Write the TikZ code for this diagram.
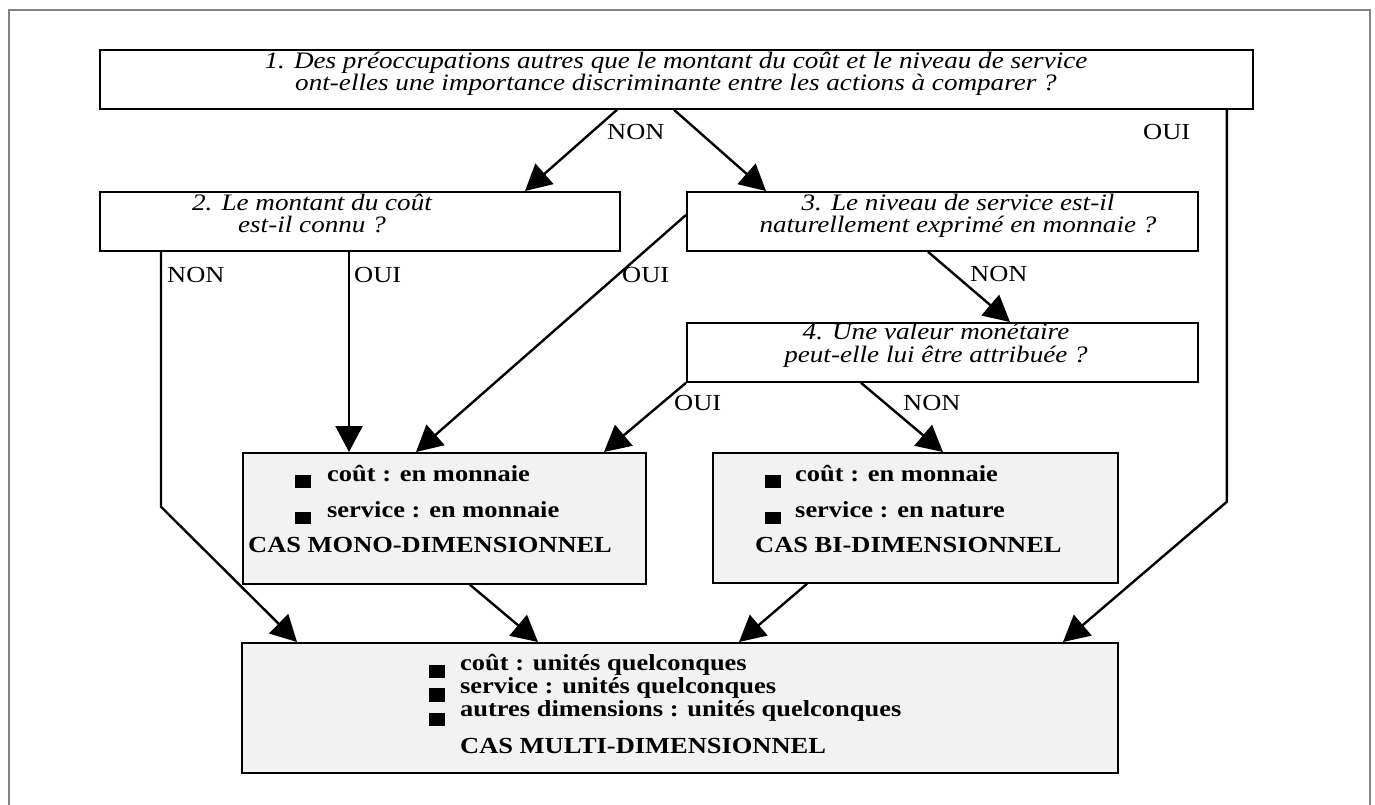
\documentclass[tikz,border=0pt]{standalone}
\usepackage{fontspec}
\setmainfont{Liberation Serif}[FakeStretch=1.15]
\usetikzlibrary{arrows.meta}
\definecolor{boxgray}{RGB}{242,242,242}
\definecolor{framegray}{RGB}{130,130,130}
\begin{document}
\begin{tikzpicture}[x=1pt,y=-1pt,
  qbox/.style={draw=black,line width=1.8pt,fill=white,rectangle,inner sep=0pt,anchor=north west},
  rbox/.style={qbox,fill=boxgray},
  qtext/.style={font=\fontsize{23.6}{22.5}\selectfont\itshape,align=center,inner sep=0pt,anchor=base},
  lbl/.style={font=\fontsize{23}{22.5}\selectfont,inner sep=0pt,anchor=base west},
  btext/.style={font=\fontsize{23}{23}\selectfont\bfseries,inner sep=0pt,anchor=base west},
  conn/.style={line width=2.4pt,line join=miter,-{Triangle[length=26pt,width=27pt]}}]
\useasboundingbox (0,0) rectangle (1375,805);
\draw[framegray,line width=2pt] (9,805) -- (9,10) -- (1370,10) -- (1370,805);

% question boxes
\node[qbox,minimum width=1153pt,minimum height=59pt] (b1) at (99,49) {};
\node[qbox,minimum width=520pt,minimum height=59pt] (b2) at (99,191) {};
\node[qbox,minimum width=511pt,minimum height=59pt] (b3) at (686,191) {};
\node[qbox,minimum width=511pt,minimum height=59pt] (b4) at (686,322) {};
% result boxes
\node[rbox,minimum width=403pt,minimum height=131pt] (mono) at (242,452) {};
\node[rbox,minimum width=405pt,minimum height=130pt] (bi) at (712,452) {};
\node[rbox,minimum width=876pt,minimum height=130pt] (multi) at (241,642) {};

% question texts (base anchor = baseline of the last line)
\node[qtext] (t1) at (676,91) {1. Des préoccupations autres que le montant du coût et le niveau de service\\ont-elles une importance discriminante entre les actions à comparer ?};
\node[qtext] (t2) at (312,233) {2. Le montant du coût\\est-il connu ?};
\node[qtext] (t3) at (958,233) {3. Le niveau de service est-il\\naturellement exprimé en monnaie ?};
\node[qtext] (t4) at (936,362) {4. Une valeur monétaire\\peut-elle lui être attribuée ?};

% connectors
\draw[conn] ([xshift=518pt]b1.south west) -- ([xshift=426pt]b2.north west);
\draw[conn] ([xshift=575pt]b1.south west) -- ([xshift=80pt]b3.north west);
\draw[conn] ([xshift=-27pt]b1.south east) -- ++(0,392) -- ([xshift=822pt]multi.north west);
\draw[conn] ([xshift=62pt]b2.south west) -- ++(0,255) -- ([xshift=56pt]multi.north west);
\draw[conn] ([xshift=250pt]b2.south west) -- ([xshift=107pt]mono.north west);
\draw[conn] ([yshift=-24pt]b3.north west) -- ([xshift=174pt]mono.north west);
\draw[conn] ([xshift=242pt]b3.south west) -- ([xshift=324pt]b4.north west);
\draw[conn] (b4.south west) -- ([xshift=362pt]mono.north west);
\draw[conn] ([xshift=175pt]b4.south west) -- ([xshift=231pt]bi.north west);
\draw[conn] ([xshift=228pt]mono.south west) -- ([xshift=297pt]multi.north west);
\draw[conn] ([xshift=95pt]bi.south west) -- ([xshift=498pt]multi.north west);

% connector labels
\node[lbl] (l1) at (607,140) {NON};
\node[lbl] (l2) at (1143,140) {OUI};
\node[lbl] (l3) at (167,282) {NON};
\node[lbl] (l4) at (354,282) {OUI};
\node[lbl] (l5) at (622,282) {OUI};
\node[lbl] (l6) at (970,281) {NON};
\node[lbl] (l7) at (674,410) {OUI};
\node[lbl] (l8) at (903,410) {NON};

% mono box content
\fill (295,475) rectangle (311,488);
\fill (295,512) rectangle (311,524);
\node[btext] (m1) at (327,481) {coût : en monnaie};
\node[btext] (m2) at (327,517) {service : en monnaie};
\node[btext] (m3) at (248,552) {CAS MONO-DIMENSIONNEL};

% bi box content
\fill (765,475) rectangle (781,488);
\fill (765,512) rectangle (781,524);
\node[btext] (n1) at (795,481) {coût : en monnaie};
\node[btext] (n2) at (795,517) {service : en nature};
\node[btext] (n3) at (755,552) {CAS BI-DIMENSIONNEL};

% multi box content
\fill (429,665) rectangle (445,678);
\fill (429,688) rectangle (445,702);
\fill (429,713) rectangle (445,726);
\node[btext] (u1) at (460,670) {coût : unités quelconques};
\node[btext] (u2) at (460,693) {service : unités quelconques};
\node[btext] (u3) at (460,716) {autres dimensions : unités quelconques};
\node[btext] (u4) at (460,753) {CAS MULTI-DIMENSIONNEL};
\end{tikzpicture}
\end{document}
